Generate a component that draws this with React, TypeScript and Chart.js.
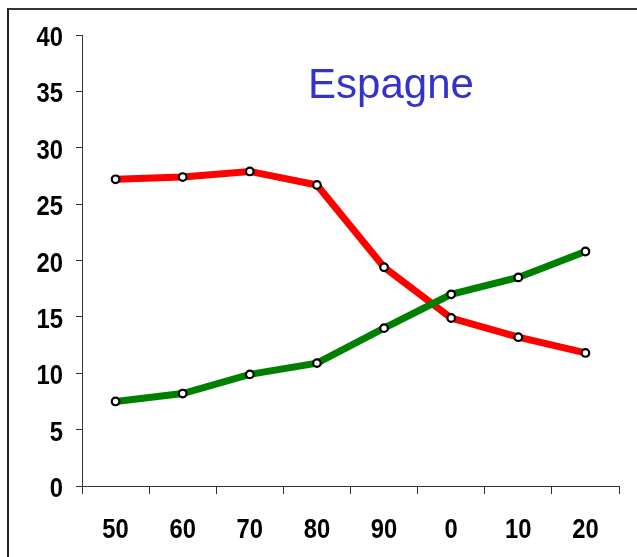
import React, { useEffect, useRef } from "react";
import { Chart, registerables } from "chart.js";

Chart.register(...registerables);

// Decade labels along the x axis
const decades = ["50", "60", "70", "80", "90", "0", "10", "20"];
// Declining series (red)
const redSeries = [27.2, 27.4, 27.9, 26.7, 19.4, 14.9, 13.2, 11.8];
// Rising series (green)
const greenSeries = [7.5, 8.2, 9.9, 10.9, 14.0, 17.0, 18.5, 20.8];
// Y axis range and step
const yMin = 0;
const yMax = 40;
const yStep = 5;
const titleText = "Espagne";

const labelFont = "bold 28px 'Liberation Sans', Arial, sans-serif";
const labelSqueeze = 0.85;

// Draws the tick labels in a condensed bold face and the country name
const customText = {
  id: "customText",
  afterDraw(chart: any) {
    const ctx = chart.ctx as CanvasRenderingContext2D;
    const xs = chart.scales.x;
    const ys = chart.scales.y;

    ctx.save();
    ctx.font = labelFont;
    ctx.fillStyle = "#000000";
    ctx.textBaseline = "alphabetic";

    ys.ticks.forEach((t: any, i: number) => {
      const py = ys.getPixelForTick(i);
      ctx.save();
      ctx.translate(63, py + 11);
      ctx.scale(labelSqueeze, 1);
      ctx.textAlign = "right";
      ctx.fillText(String(t.label), 0, 0);
      ctx.restore();
    });

    xs.ticks.forEach((t: any, i: number) => {
      const px = xs.getPixelForTick(i);
      ctx.save();
      ctx.translate(px, 538);
      ctx.scale(labelSqueeze, 1);
      ctx.textAlign = "center";
      ctx.fillText(String(t.label), 0, 0);
      ctx.restore();
    });

    ctx.font = "42px 'Liberation Sans', Arial, sans-serif";
    ctx.fillStyle = "#3333cc";
    ctx.textAlign = "center";
    ctx.fillText(titleText, 391, 98);
    ctx.restore();
  },
};

export default function App() {
  const canvasRef = useRef<HTMLCanvasElement | null>(null);

  useEffect(() => {
    const canvas = canvasRef.current;
    if (!canvas) return;
    const pointStyle = {
      borderWidth: 7,
      pointRadius: 3.8,
      pointBorderWidth: 2.2,
      pointBorderColor: "#000000",
      pointBackgroundColor: "#ffffff",
      tension: 0,
      fill: false,
    };
    const chart = new Chart(canvas, {
      type: "line",
      data: {
        labels: decades,
        datasets: [
          { data: greenSeries, borderColor: "#008000", ...pointStyle },
          { data: redSeries, borderColor: "#ff0000", ...pointStyle },
        ],
      },
      options: {
        responsive: false,
        animation: false,
        devicePixelRatio: 1,
        layout: { padding: { top: 35, right: 18, left: 0, bottom: 0 } },
        plugins: {
          legend: { display: false },
          title: { display: false },
          tooltip: { enabled: false },
        },
        scales: {
          x: {
            type: "category",
            offset: true,
            grid: {
              offset: true,
              drawOnChartArea: false,
              drawTicks: true,
              tickLength: 8,
              tickColor: "#333333",
            },
            border: { display: true, color: "#333333", width: 1 },
            ticks: { display: false, autoSkip: false },
            afterFit(scale: any) {
              scale.height = 71;
            },
          },
          y: {
            min: yMin,
            max: yMax,
            grid: {
              drawOnChartArea: false,
              drawTicks: true,
              tickLength: 6,
              tickColor: "#333333",
            },
            border: { display: true, color: "#333333", width: 1 },
            ticks: { display: false, stepSize: yStep },
            afterFit(scale: any) {
              scale.width = 82;
            },
          },
        },
      },
      plugins: [customText],
    });
    return () => chart.destroy();
  }, []);

  return (
    <div
      style={{
        position: "fixed",
        left: 0,
        top: 0,
        width: 637,
        height: 557,
        overflow: "hidden",
        background: "#ffffff",
      }}
    >
      <div
        style={{
          position: "absolute",
          left: 7,
          top: 8,
          width: 800,
          height: 800,
          borderTop: "2px solid #333333",
          borderLeft: "2px solid #222222",
        }}
      />
      <canvas
        ref={canvasRef}
        width={637}
        height={557}
        style={{ position: "absolute", left: 0, top: 0, display: "block" }}
      />
    </div>
  );
}
